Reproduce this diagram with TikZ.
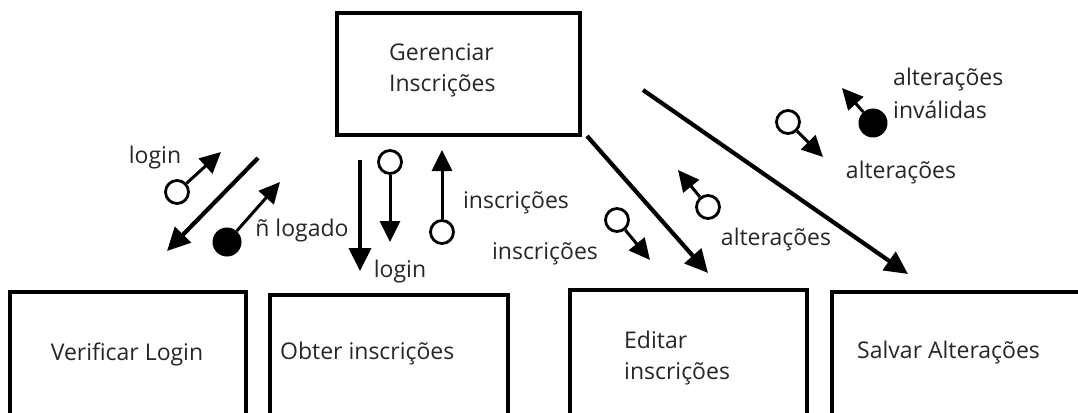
\documentclass[tikz,border=0pt]{standalone}
\usepackage{fontspec}
\setmainfont{Open Sans}
\usetikzlibrary{arrows.meta, calc, positioning}

\begin{document}
\begin{tikzpicture}[x=1pt, y=-1pt,
    box/.style={line width=3.2pt},
    boxtext/.style={align=left, inner sep=0pt, font=\fontsize{23}{31}\selectfont, text=black!85},
    lbl/.style={align=left, inner sep=0pt, font=\fontsize{23}{33}\selectfont, text=black!85},
    flow/.style={line width=4.2pt, -{Triangle[length=23pt, width=22pt]}},
    couple/.style={line width=3pt, -{Triangle[length=21pt, width=20pt]}},
    dataflag/.style={circle, draw, line width=2.8pt, fill=white, minimum size=23pt, inner sep=0pt},
    ctrlflag/.style={circle, fill=black, minimum size=29pt, inner sep=0pt}]
	\useasboundingbox (0,0) rectangle (1078,412);
	\clip (0,0) rectangle (1078,412);

	% modules
	\draw[box] (337,13) rectangle (580,135);
	\node[boxtext, anchor=west] (ger) at (389,70) {Gerenciar\\Inscrições};

	\draw[box] (10,292) rectangle (246,430);
	\node[boxtext] (verif) at (127,354) {Verificar Login};

	\draw[box] (270,295) rectangle (508,430);
	\node[boxtext, anchor=west] (obter) at (280,354) {Obter inscrições};

	\draw[box] (570,290) rectangle (807,430);
	\node[boxtext, anchor=west] (editar) at (624,358) {Editar\\inscrições};

	\draw[box] (832,292) rectangle (1090,430);
	\node[boxtext, anchor=west] (salvar) at (857,353) {Salvar Alterações};

	% calls
	\coordinate (v1) at (258,158);
	\coordinate (v2) at (167,251);
	\coordinate (o1) at (360,160);
	\coordinate (o2) at (360,271);
	\coordinate (e1) at (587,136);
	\coordinate (e2) at (708,273);
	\coordinate (s1) at (643,90);
	\coordinate (s2) at (908,274);
	\draw[flow] (v1) -- (v2);
	\draw[flow] (o1) -- (o2);
	\draw[flow] (e1) -- (e2);
	\draw[flow] (s1) -- (s2);

	% couples: Verificar Login
	\node[dataflag] (c1) at (177,192) {};
	\coordinate (t1) at (221,152);
	\draw[couple] (c1) -- (t1);
	\node[lbl] (l1) at (155,158) {login};
	\node[ctrlflag] (c2) at (227,242) {};
	\coordinate (t2) at (280,182);
	\draw[couple] (c2) -- (t2);
	\node[lbl] (l2) at (302,231) {ñ logado};

	% couples: Obter inscrições
	\node[dataflag] (c3) at (390,162) {};
	\coordinate (t3) at (390,242);
	\draw[couple] (c3) -- (t3);
	\node[lbl] (l3) at (400,272) {login};
	\node[dataflag] (c4) at (442,232) {};
	\coordinate (t4) at (442,150);
	\draw[couple] (c4) -- (t4);
	\node[lbl] (l4) at (516,203) {inscrições};

	% couples: Editar inscrições
	\node[dataflag] (c5) at (617,220) {};
	\coordinate (t5) at (650,260);
	\draw[couple] (c5) -- (t5);
	\node[lbl] (l5) at (545,254) {inscrições};
	\node[dataflag] (c6) at (708,207) {};
	\coordinate (t6) at (678,170);
	\draw[couple] (c6) -- (t6);
	\node[lbl] (l6) at (776,240) {alterações};

	% couples: Salvar Alterações
	\node[dataflag] (c7) at (788,122) {};
	\coordinate (t7) at (823,157);
	\draw[couple] (c7) -- (t7);
	\node[lbl] (l7) at (901,173) {alterações};
	\node[ctrlflag] (c8) at (873,123) {};
	\coordinate (t8) at (842,88);
	\draw[couple] (c8) -- (t8);
	\node[lbl, anchor=west] (l8) at (893,93) {alterações\\inválidas};
\end{tikzpicture}
\end{document}
